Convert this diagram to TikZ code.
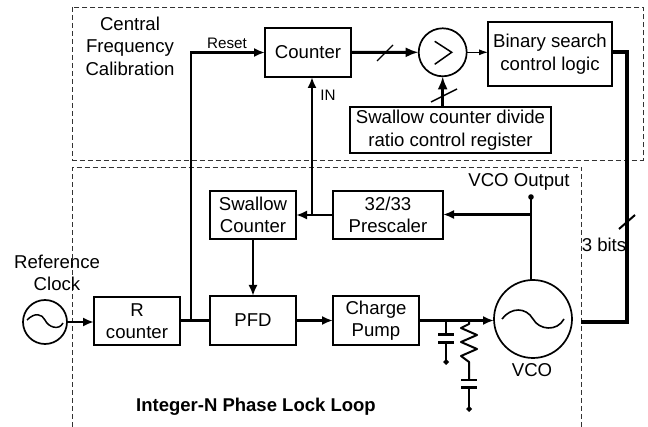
\documentclass[tikz,border=0pt]{standalone}
\usepackage{fontspec}
\setmainfont{Liberation Sans}
\usetikzlibrary{arrows.meta,calc}
\tikzset{
  every node/.style={inner sep=0pt,outer sep=0pt},
  txt/.style={align=center,font=\fontsize{18.6}{22.5}\selectfont},
  small/.style={align=center,font=\fontsize{15.2}{18}\selectfont},
  blockbox/.style={txt,draw,line width=1.7pt,minimum width=#1},
  blockbox/.default=86pt,
  osc/.style={draw,circle,line width=1.7pt},
  frame/.style={line width=0.7pt,dash pattern=on 5pt off 3pt,draw=black!80},
  wire/.style={line width=2.2pt},
  sig/.style={wire,-{Latex[length=11pt,width=9pt]}},
  thin sig/.style={line width=1pt,-{Latex[length=9pt,width=6pt]}},
  bus/.style={line width=4.2pt},
  hv/.style={line width=3pt},
  gnd/.style={line width=2.2pt,-{Diamond[length=6pt,width=6pt]}},
  plate/.style={line width=2.2pt}
}
\begin{document}
\begin{tikzpicture}[x=1pt,y=-1pt]
\useasboundingbox (0,0) rectangle (648,427);
% frames
\draw[frame] (72.7,7) rectangle (643,160);
\draw[frame] (72.7,427) -- (72.7,167) -- (581.7,167) -- (581.7,427);
% blocks
\node[blockbox,minimum height=49pt] (cnt) at (308,52.5) {Counter};
\node[osc,minimum size=48pt] (cmp) at (442.7,52.3) {};
\node[blockbox=124pt,minimum height=64pt] (bin) at (550,54) {Binary search\\control logic};
\node[blockbox=201pt,minimum height=46pt] (reg) at (450.5,130) {Swallow counter divide\\ratio control register};
\node[blockbox,minimum height=48pt] (swc) at (253,215) {Swallow\\Counter};
\node[blockbox=110pt,minimum height=48pt] (pre) at (388,215) {32/33\\Prescaler};
\node[blockbox,minimum height=48pt] (rc) at (137,321) {R\\counter};
\node[blockbox,minimum height=49pt] (pfd) at (253,320.5) {PFD};
\node[blockbox,minimum height=49pt] (cp) at (376,320.5) {Charge\\Pump};
\node[osc,minimum size=44pt] (ref) at (45,322) {};
\node[osc,minimum size=78pt] (vco) at (533,319) {};
% labels
\node[txt] (lcal) at (130,46) {Central\\Frequency\\Calibration};
\node[small] (lreset) at (227,43) {Reset};
\node[small] (lin) at (328,95) {IN};
\node[txt] (lref) at (57,273) {Reference\\Clock};
\node[txt] (lvco) at (532,370) {VCO};
\node[txt] (lout) at (519,182) {VCO Output};
\node[txt] (lbits) at (604,245) {3 bits};
\node[txt,font=\fontsize{18.5}{22}\selectfont\bfseries] (lpll) at (256,407) {Integer-N Phase Lock Loop};
% sine glyphs
\draw[line width=1.5pt] ($(ref.center)+(-18,-2)$) .. controls ($(ref.center)+(-10,-10)$) and ($(ref.center)+(-3,-8)$) .. ($(ref.center)+(0,-2)$) .. controls ($(ref.center)+(3,5)$) and ($(ref.center)+(14,9)$) .. ($(ref.center)+(18,1)$);
\draw[line width=1.6pt] ($(vco.center)+(-31,0)$) .. controls ($(vco.center)+(-22,-12)$) and ($(vco.center)+(-7,-12)$) .. ($(vco.center)+(0,0)$) .. controls ($(vco.center)+(6,11)$) and ($(vco.center)+(24,13)$) .. ($(vco.center)+(31,0)$);
% comparator glyph
\draw[line width=1.5pt] ($(cmp.center)+(-8,-11)$) -- ($(cmp.center)+(9,0)$) -- ($(cmp.center)+(-8,12)$);
% PLL wiring
\draw[sig] (ref.east) -- (rc.west |- ref.east);
\draw[wire] (rc.east |- pfd.west) -- (pfd.west);
\draw[sig] (pfd.east) -- (cp.west);
\coordinate (tap) at (191,320.5);
\draw[sig] (tap) -- (191,52.5) -- (cnt.west);
\draw[sig] (swc.south) -- (pfd.north);
\coordinate (split) at (312,215);
\draw[sig] (pre.west) -- (swc.east);
\draw[sig] (split) -- (cnt.south -| split);
\coordinate (outdot) at (531,197);
\coordinate (outtap) at (531,214.5);
\draw[wire] (outdot) -- (531,280.2);
\fill (outdot) circle (2.8pt);
\draw[sig] (outtap) -- (pre.east |- outtap);
\draw[sig] (cp.east) -- (vco.west |- cp.east);
% loop filter
\coordinate (c1t) at (446,320.5);
\coordinate (c1a) at (446,334.5);
\coordinate (c1b) at (446,342.5);
\coordinate (c1g) at (446,365);
\draw[wire] (c1t) -- (c1a);
\draw[plate] ($(c1a)+(-8,0)$) -- ($(c1a)+(8,0)$);
\draw[plate] ($(c1b)+(-8,0)$) -- ($(c1b)+(8,0)$);
\draw[gnd] (c1b) -- (c1g);
\coordinate (r1t) at (469,320.5);
\coordinate (c2a) at (469,380);
\coordinate (c2b) at (469,387.5);
\coordinate (c2g) at (469,412);
\draw[line width=2pt,line join=round] (r1t) -- (469,324) -- (461,328) -- (477,335) -- (461,342) -- (477,349) -- (461,356) -- (469,362) -- (c2a);
\draw[plate] ($(c2a)+(-8,0)$) -- ($(c2a)+(8,0)$);
\draw[plate] ($(c2b)+(-8,0)$) -- ($(c2b)+(8,0)$);
\draw[gnd] (c2b) -- (c2g);
% calibration wiring
\draw[hv,-{Latex[length=13pt,width=10pt]}] (cnt.east) -- (cmp.west);
\coordinate (s1a) at (377,61);
\coordinate (s1b) at (393,45);
\draw[line width=1.4pt] (s1a) -- (s1b);
\draw[thin sig] (cmp.east) -- (bin.west |- cmp.east);
\draw[hv,-{Latex[length=13pt,width=10pt]}] (reg.north -| cmp.south) -- (cmp.south);
\coordinate (s2a) at (431,102);
\coordinate (s2b) at (457,89);
\draw[line width=1.4pt] (s2a) -- (s2b);
% bus
\coordinate (busr) at (627,52);
\coordinate (busb) at (627,322);
\coordinate (busend) at (581,322);
\draw[bus,line join=miter] (bin.east |- busr) -- (busr) -- (busb) -- (busend);
\coordinate (s3a) at (619,229);
\coordinate (s3b) at (635,215);
\draw[line width=2pt] (s3a) -- (s3b);
\end{tikzpicture}
\end{document}
